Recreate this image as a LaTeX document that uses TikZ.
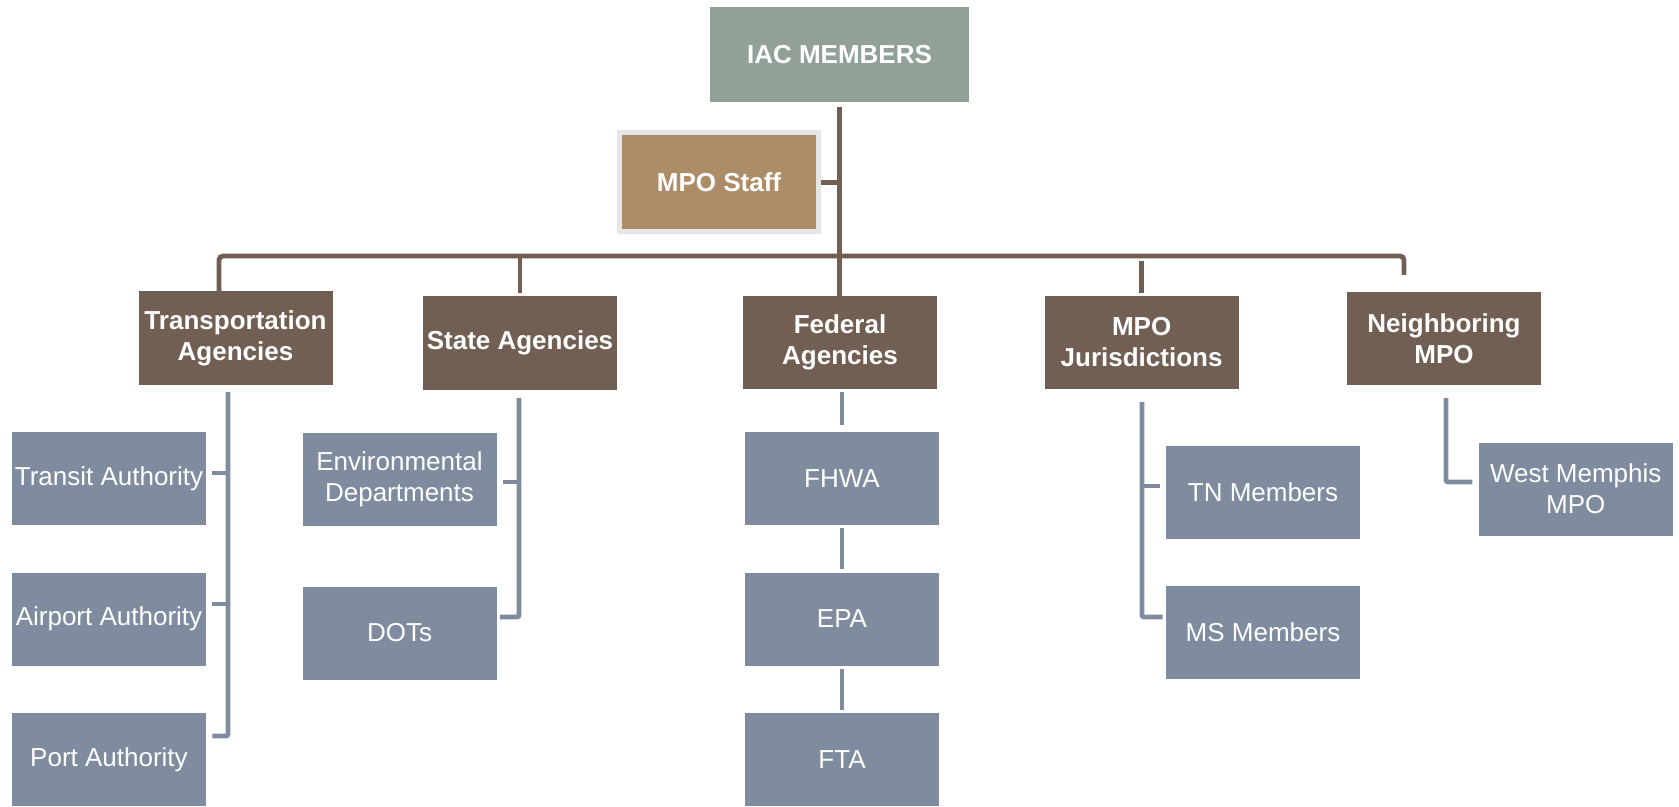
\documentclass[tikz,border=0pt]{standalone}
\usepackage{fontspec}
\setmainfont{Liberation Sans}
\usepackage{tikz}
\usetikzlibrary{positioning,calc}
\definecolor{iacgreen}{HTML}{91A197}
\definecolor{staffbrown}{HTML}{AC8D67}
\definecolor{agencybrown}{HTML}{725F54}
\definecolor{memberblue}{HTML}{7F8C9F}
\definecolor{staffedge}{HTML}{E6E6E6}
\tikzstyle{headbox} = [rectangle, fill=iacgreen, minimum width=129.5pt, minimum height=47.5pt, text=white, font=\fontsize{13pt}{15.5pt}\selectfont\bfseries, align=center, inner sep=0pt]
\tikzstyle{staffbox} = [rectangle, fill=staffbrown, draw=staffedge, line width=2.5pt, minimum width=99.5pt, minimum height=49.5pt, text=white, font=\fontsize{13pt}{15.5pt}\selectfont\bfseries, align=center, inner sep=0pt]
\tikzstyle{agency} = [rectangle, fill=agencybrown, minimum width=97pt, minimum height=46.5pt, text=white, font=\fontsize{13pt}{15.5pt}\selectfont\bfseries, align=center, inner sep=0pt]
\tikzstyle{member} = [rectangle, fill=memberblue, minimum width=97pt, minimum height=46.5pt, text=white, font=\fontsize{13pt}{15.5pt}\selectfont, align=center, inner sep=0pt]
\tikzstyle{trunk} = [draw=agencybrown, line width=2.4pt]
\tikzstyle{branch} = [draw=memberblue, line width=2.4pt]

\begin{document}
\begin{tikzpicture}[x=0.5pt, y=-0.5pt]
	\useasboundingbox (0,0) rectangle (1679,807);
	% top of the chart
	\node (iac) at (839.5,54.5) [headbox] {IAC MEMBERS};
	\node (staff) at (719,182.5) [staffbox] {MPO Staff};
	% agency groups
	\node (trans) at (235.5,338) [agency] {Transportation\\Agencies};
	\node (state) at (520,343) [agency] {State Agencies};
	\node (fed) at (840,342.5) [agency] {Federal\\Agencies};
	\node (juris) at (1141.6,342.5) [agency] {MPO\\Jurisdictions};
	\node (neigh) at (1444,338.5) [agency] {Neighboring\\MPO};
	% members
	\node (transit) at (109,478.5) [member] {Transit Authority};
	\node (airport) at (109,619) [member] {Airport Authority};
	\node (port) at (109,759.5) [member] {Port Authority};
	\node (env) at (399.5,479.5) [member] {Environmental\\Departments};
	\node (dots) at (399.5,633) [member] {DOTs};
	\node (fhwa) at (842,478.5) [member] {FHWA};
	\node (epa) at (842,619) [member] {EPA};
	\node (fta) at (842,759.5) [member] {FTA};
	\node (tn) at (1263,492.5) [member] {TN Members};
	\node (ms) at (1263,632.5) [member] {MS Members};
	\node (wm) at (1575.7,489) [member] {West Memphis\\MPO};
	% brown lines
	\coordinate (busl) at (219,256);
	\coordinate (busr) at (1404,256);
	\coordinate (nbend) at (1404,275);
	\draw[trunk, shorten <=2.5pt] (iac.south) -- (iac.south |- fed.north);
	\draw[trunk] (staff.east) -- (staff.east -| iac.south);
	\draw[trunk, rounded corners=2pt] (busl |- trans.north) -- (busl) -- (busr) -- (nbend);
	\draw[trunk, shorten >=1.5pt] (state.north |- busl) -- (state.north);
	\draw[trunk, shorten <=2.5pt, shorten >=1.5pt] (juris.north |- busl) -- (juris.north);
	% blue lines
	\coordinate (tspine) at (228,392);
	\draw[branch, rounded corners=1pt] (tspine) |- ($(port.east)+(6,-23.5)$);
	\draw[branch] ($(transit.east)+(6,-5.5)$) -- (tspine |- {$(transit.east)+(6,-5.5)$});
	\draw[branch] ($(airport.east)+(6,-15)$) -- (tspine |- {$(airport.east)+(6,-15)$});
	\coordinate (sspine) at (519,398);
	\draw[branch, rounded corners=1pt] (sspine) |- ($(dots.east)+(3,-16)$);
	\draw[branch] ($(env.east)+(6,2.5)$) -- (sspine |- {$(env.east)+(6,2.5)$});
	\draw[branch, shorten <=1.5pt, shorten >=3.5pt] (fhwa.north |- fed.south) -- (fhwa.north);
	\draw[branch, shorten <=1.5pt, shorten >=1.5pt] (fhwa.south) -- (epa.north);
	\draw[branch, shorten <=1.5pt, shorten >=1.5pt] (epa.south) -- (fta.north);
	\coordinate (jspine) at (1142,402);
	\draw[branch, rounded corners=1pt] (jspine) |- ($(ms.west)+(-3,-15.5)$);
	\draw[branch] ($(tn.west)+(-6,-6.5)$) -- (jspine |- {$(tn.west)+(-6,-6.5)$});
	\coordinate (nspine) at (1446,398);
	\draw[branch, rounded corners=1pt] (nspine) |- ($(wm.west)+(-6,-7)$);
\end{tikzpicture}
\end{document}
